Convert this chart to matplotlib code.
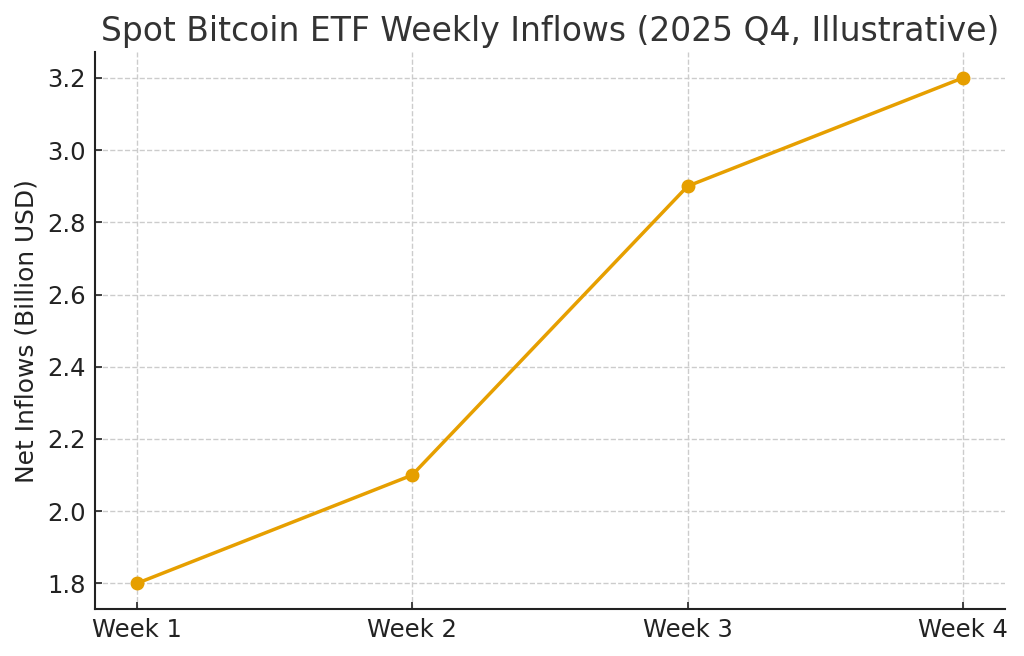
import matplotlib
matplotlib.use("Agg")
import matplotlib.pyplot as plt

# weekly net inflows, billion USD
weeks = ["Week 1", "Week 2", "Week 3", "Week 4"]
inflows = [1.8, 2.1, 2.9, 3.2]

fig = plt.figure(figsize=(10.24, 6.56), dpi=100)
ax = fig.add_axes([0.093, 0.072, 0.888, 0.848])

ax.plot(weeks, inflows, color="#E69F00", linewidth=2.5, marker="o", markersize=9)

ax.set_title("Spot Bitcoin ETF Weekly Inflows (2025 Q4, Illustrative)",
             fontsize=23.8, color="#333333", pad=8)
ax.set_ylabel("Net Inflows (Billion USD)", fontsize=17.9, color="#222222",
              labelpad=6)

ax.grid(True, linestyle="--", color="#cccccc", linewidth=1)
ax.set_axisbelow(True)
ax.tick_params(labelsize=17.5, colors="#222222", direction="in", length=5,
               width=1.2, pad=7)
for s in ["top", "right"]:
    ax.spines[s].set_visible(False)
for s in ["left", "bottom"]:
    ax.spines[s].set_linewidth(1.5)
    ax.spines[s].set_color("#222222")

plt.savefig("out.png", dpi=100)
plt.close("all")
